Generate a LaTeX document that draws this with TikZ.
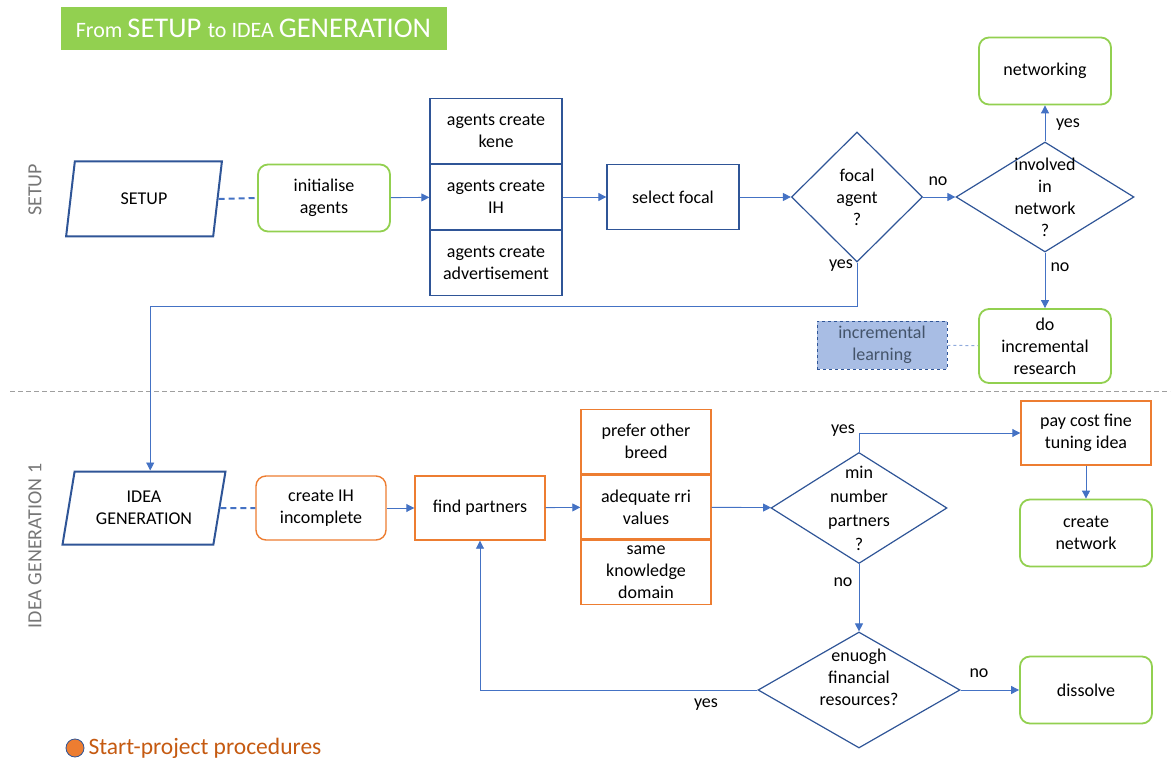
\documentclass[tikz,border=0pt]{standalone}
\usepackage{fontspec}
\setmainfont{Carlito}
\usetikzlibrary{shapes.geometric, arrows.meta, positioning, calc}

\definecolor{darkblue}{RGB}{47,85,151}
\definecolor{linkblue}{RGB}{68,114,196}
\definecolor{softblue}{RGB}{143,170,220}
\definecolor{leafgreen}{RGB}{146,208,80}
\definecolor{rustorange}{RGB}{237,125,49}
\definecolor{legendorange}{RGB}{197,90,17}
\definecolor{paleblue}{RGB}{168,189,228}
\definecolor{slategrey}{RGB}{68,84,106}
\definecolor{lanegrey}{RGB}{118,118,118}

\begin{document}
\begin{tikzpicture}[x=1pt, y=-1pt,
  every node/.style={font=\fontsize{18}{22}\selectfont, align=center, inner sep=0pt},
  bbox/.style={draw=darkblue, line width=1.3pt, minimum width=132pt, minimum height=65pt},
  obox/.style={draw=rustorange, line width=1.4pt, minimum width=130pt, minimum height=64pt},
  gbox/.style={draw=leafgreen, line width=1.8pt, rounded corners=10pt, minimum width=132pt, minimum height=67pt},
  orbox/.style={draw=rustorange, line width=1.4pt, rounded corners=10pt, minimum width=130pt, minimum height=64pt},
  decision/.style={diamond, draw=darkblue, line width=1.2pt},
  io/.style={trapezium, trapezium left angle=76, trapezium right angle=104, trapezium stretches=true, draw=darkblue, line width=2pt},
  flow/.style={draw=linkblue, line width=0.9pt, -{Triangle[length=8pt, width=8pt]}},
  link/.style={draw=linkblue, line width=2pt, dash pattern=on 6pt off 4pt},
  lane/.style={rotate=90, text=lanegrey, font=\fontsize{20}{22}\selectfont}]
\useasboundingbox (0,0) rectangle (1173,762);

% title and lanes
\node[fill=leafgreen, minimum width=386pt, minimum height=43pt, text=white] (title) at (253.5,28.5)
  {\fontsize{22}{25}\selectfont From \fontsize{28.5}{30}\selectfont SETUP \fontsize{22}{25}\selectfont to IDEA \fontsize{28.5}{30}\selectfont GENERATION};
\node[lane] (setuplane) at (35,190) {SETUP};
\node[lane] (idealane) at (35,546) {IDEA GENERATION 1};
\draw[lanegrey!70, line width=0.8pt, dash pattern=on 5pt off 3pt] (10,391) -- (1170,391);

% setup
\node[io, minimum width=156pt, minimum height=75pt] (setup) at (144,199) {SETUP};
\node[gbox] (init) at (324,198) {initialise\\agents};
\node[bbox] (ih) at (496,197) {agents create\\IH};
\node[bbox, above=0pt of ih] (kene) {agents create\\kene};
\node[bbox, below=0pt of ih] (advert) {agents create\\advertisement};
\node[bbox] (selfocal) at (673,197) {select focal};
\node[decision, minimum width=131pt, minimum height=130pt] (focal) at (857,197) {};
\node (focaltxt) at (focal) {focal\\agent\\?};
\node[decision, minimum width=178pt, minimum height=110pt] (involved) at (1045,197) {};
\node (involvedtxt) at (involved) {involved\\in\\network\\?};
\node[gbox] (networking) at (1045,71) {networking};
\node[gbox, minimum height=74pt] (increm) at (1045,346) {do\\incremental\\research};
\node[draw=darkblue, line width=0.8pt, dashed, fill=paleblue, text=slategrey, minimum width=130pt, minimum height=48pt] (inclearn) at (882,345) {incremental\\learning};

\draw[link] (setup.east) -- (init.west);
\draw[flow] (init) -- (ih);
\draw[flow] (ih) -- (selfocal);
\draw[flow] (selfocal) -- (focal);
\draw[flow] (focal) -- (involved);
\draw[flow] (involved.north) -- (networking.south);
\draw[flow] (involved.south) -- (increm.north);
\draw[softblue, line width=1pt, dashed] (inclearn) -- (increm);

\node (focalno) at (938,181) {no};
\node (involvedyes) at (1068,125) {yes};
\node (involvedno) at (1060,267) {no};
\node (focalyes) at (841,266) {yes};

% idea generation
\node[io, minimum width=163pt, minimum height=73pt] (ideagen) at (144,508) {IDEA\\GENERATION};
\node[orbox] (createih) at (321,508) {create IH\\incomplete};
\node[obox] (partners) at (480,508) {find partners};
\node[obox] (rri) at (646,507) {adequate rri\\values};
\node[obox, above=0pt of rri] (breed) {prefer other\\breed};
\node[obox, below=0pt of rri] (domain) {same\\knowledge\\domain};
\node[decision, minimum width=176pt, minimum height=111pt] (minnum) at (859,508) {};
\node[font=\fontsize{18}{24}\selectfont] (minnumtxt) at (minnum) {min\\number\\partners\\?};
\node[obox] (paycost) at (1086,433) {pay cost fine\\tuning idea};
\node[gbox] (crnet) at (1086,533) {create\\network};
\node[decision, minimum width=202pt, minimum height=116pt] (funds) at (859,690) {};
\node (fundstxt) at (859,677) {enuogh\\financial\\resources?};
\node[gbox] (dissolve) at (1086,690) {dissolve};

\draw[flow] (focal.south) -- ++(0,44) -| ($(ideagen.top left corner)!0.5!(ideagen.top right corner)$);
\draw[link] (ideagen.east) -- (createih.west);
\draw[flow] (createih) -- (partners);
\draw[flow] (partners) -- (rri);
\draw[flow] (rri) -- (minnum);
\draw[flow] (minnum.north) |- (paycost.west);
\draw[flow] (paycost) -- (crnet);
\draw[flow] (minnum.south) -- (funds.north);
\draw[flow] (funds) -- (dissolve);
\draw[flow] (funds.west) -| (partners.south);

\node (minyes) at (843,431) {yes};
\node (minno) at (843,582) {no};
\node (fundsno) at (979,673) {no};
\node (fundsyes) at (706,705) {yes};

% legend
\node[circle, fill=rustorange, draw=darkblue, line width=0.8pt, minimum size=18pt] (dot) at (75,748) {};
\node[right=4pt of dot, text=legendorange, font=\fontsize{23.5}{26}\selectfont] (legend) {Start-project procedures};
\end{tikzpicture}
\end{document}
